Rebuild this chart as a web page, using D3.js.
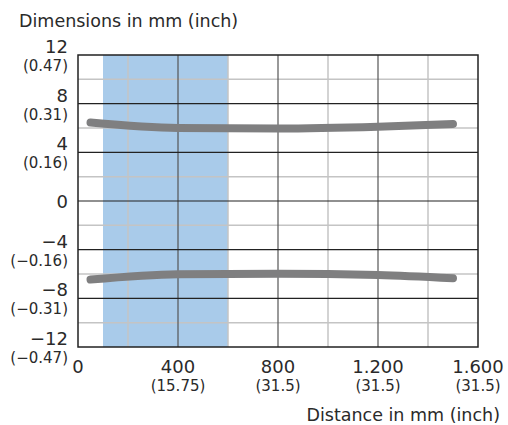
<!DOCTYPE html>
<html>
<head>
<meta charset="utf-8">
<script src="https://cdn.jsdelivr.net/npm/d3@7"></script>
<style>
  body { margin: 0; background: #fff; }
  text { font-family: "DejaVu Sans", Verdana, sans-serif; fill: #2a2a2a; }
</style>
</head>
<body>
<div id="chart"></div>
<script>
// ---- data ----
var yTicks = [12, 8, 4, 0, -4, -8, -12];
var yInch = ['(0.47)', '(0.31)', '(0.16)', '', '(\u22120.16)', '(\u22120.31)', '(\u22120.47)'];
var xTicks = [0, 400, 800, 1200, 1600];
var xTickText = ['0', '400', '800', '1.200', '1.600'];
var xInch = ['', '(15.75)', '(31.5)', '(31.5)', '(31.5)'];
var band = [100, 600];
var distances = [50, 400, 800, 1200, 1500];
var upper = [6.45, 6.0, 5.95, 6.1, 6.33];
var lower = [-6.46, -6.02, -5.98, -6.08, -6.35];

var W = 508, H = 425;
var m = { left: 78, top: 55, right: 30, bottom: 78 };
var w = W - m.left - m.right, h = H - m.top - m.bottom;

var svg = d3.select('#chart').append('svg').attr('width', W).attr('height', H);
var g = svg.append('g').attr('transform', 'translate(' + m.left + ',' + m.top + ')');

var x = d3.scaleLinear().domain([0, 1600]).range([0, w]);
var y = d3.scaleLinear().domain([-12, 12]).range([h, 0]);

// band
g.append('rect')
  .attr('x', x(band[0])).attr('y', 0)
  .attr('width', x(band[1]) - x(band[0])).attr('height', h)
  .attr('fill', '#a9cbea');

// grid
var minorX = d3.range(200, 1600, 400);
var minorY = d3.range(-10, 12, 4);
g.selectAll('.vminor').data(minorX).enter().append('line')
  .attr('x1', x).attr('x2', x).attr('y1', 0).attr('y2', h)
  .attr('stroke', '#c4c4c4').attr('stroke-width', 1.5);
g.selectAll('.hminor').data(minorY).enter().append('line')
  .attr('x1', 0).attr('x2', w).attr('y1', y).attr('y2', y)
  .attr('stroke', '#c4c4c4').attr('stroke-width', 1.5);
g.selectAll('.vmajor').data([400, 800, 1200]).enter().append('line')
  .attr('x1', x).attr('x2', x).attr('y1', 0).attr('y2', h)
  .attr('stroke', '#555').attr('stroke-width', 1.2);
g.selectAll('.hmajor').data([8, 4, 0, -4, -8]).enter().append('line')
  .attr('x1', 0).attr('x2', w).attr('y1', y).attr('y2', y)
  .attr('stroke', '#222').attr('stroke-width', 1.2);

// curves
var line = d3.line()
  .x(function (d, i) { return x(distances[i]); })
  .y(function (d) { return y(d); })
  .curve(d3.curveMonotoneX);
[upper, lower].forEach(function (s) {
  g.append('path').datum(s)
    .attr('d', line)
    .attr('fill', 'none')
    .attr('stroke', '#7f7f80')
    .attr('stroke-width', 8)
    .attr('stroke-linecap', 'round');
});

// frame
g.append('rect').attr('width', w).attr('height', h)
  .attr('fill', 'none').attr('stroke', '#222').attr('stroke-width', 1.5);

// y labels
yTicks.forEach(function (v, i) {
  var yy = y(v);
  g.append('text').attr('x', -10).attr('y', v === 0 ? yy + 7 : yy - 2)
    .attr('text-anchor', 'end').style('font-size', '18px').text(v < 0 ? '\u2212' + Math.abs(v) : v);
  if (yInch[i]) {
    g.append('text').attr('x', -10).attr('y', yy + 16)
      .attr('text-anchor', 'end').style('font-size', '15px').text(yInch[i]);
  }
});

// x labels
xTicks.forEach(function (v, i) {
  g.append('text').attr('x', x(v)).attr('y', h + 26)
    .attr('text-anchor', 'middle').style('font-size', '18px').text(xTickText[i]);
  if (xInch[i]) {
    g.append('text').attr('x', x(v)).attr('y', h + 44)
      .attr('text-anchor', 'middle').style('font-size', '15px').text(xInch[i]);
  }
});

// titles
svg.append('text').attr('x', 19).attr('y', 27).style('font-size', '17.5px').text('Dimensions in mm (inch)');
svg.append('text').attr('x', 500).attr('y', 421).attr('text-anchor', 'end')
  .style('font-size', '17.5px').text('Distance in mm (inch)');
</script>
</body>
</html>
